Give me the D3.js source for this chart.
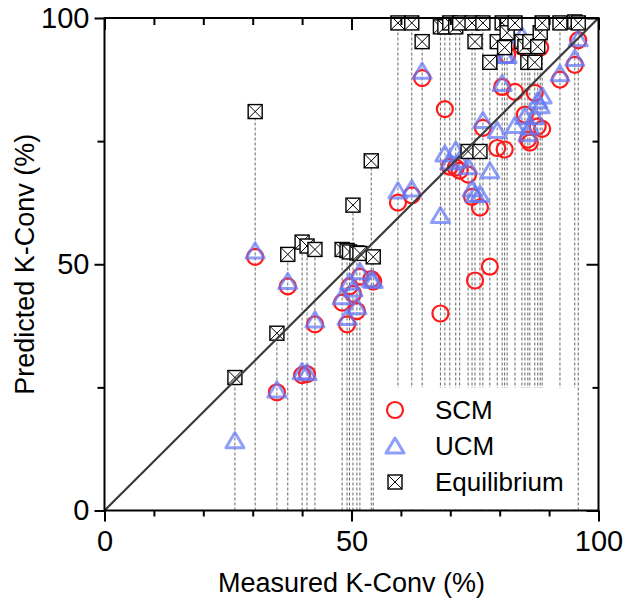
<!DOCTYPE html>
<html>
<head>
<meta charset="utf-8">
<script src="https://cdn.jsdelivr.net/npm/d3@7"></script>
<style>
  body { margin: 0; background: #fff; }
  svg { display: block; font-family: "Liberation Sans", Arial, sans-serif; }
</style>
</head>
<body>
<div id="viz"></div>
<script>
const W = 623;
const H = 598;
const margin = {top: 18, right: 24.5, bottom: 87.5, left: 104.5};

// Measured K-Conv (%) for each experiment
const measured = [26.4, 30.5, 34.9, 37.1, 40.0, 41.0, 42.6, 48.1, 49.1, 49.6, 50.3, 51.1, 51.7, 54.0, 54.4,
  59.4, 62.2, 64.3, 68.0, 68.9, 69.9, 71.1, 71.9, 73.6, 74.4, 75.0, 76.0, 76.6, 78.0, 79.5,
  80.5, 81.0, 81.5, 83.1, 84.5, 85.1, 85.7, 86.1, 87.1, 87.7, 88.2, 88.6, 92.2, 95.2, 95.9];
// Predicted values per model (null = not shown)
const scm = [null, 51.5, 24, 45.5, 27.5, 27.7, 37.8, 42.2, 37.8, 45.5, 44, 40.5, 47.5, 47, 46.5,
  62.5, 64, 87.8, 40, 81.5, 69.8, 69.6, 69, 68.2, 63.7, 46.7, 61.5, 77.7, 49.5, 73.6,
  86, 73.3, 92.5, 85, 94.2, 80.4, 75.3, 74.7, 84.8, 78, 94, 77.5, 87.5, 90.5, 95.5];
const ucm = [14, 52.5, 24.3, 46.3, 28, 27.8, 38.5, 43.2, 39, 46.2, 44.8, 41.2, 48.3, 46.8, 46.5,
  64.7, 65.1, 89, 59.7, 72.2, 70.6, 73, 71, 69.6, 65.1, 64, 64, 79, 68.8, 77,
  86.5, 92.2, 92.2, 78, 96.2, 79.8, 76.3, 77.7, 79.8, 83, 82, 84, 88.5, 91.6, 95.6];
const equilibrium = [27, 81, 36, 52, 54.5, 53.7, 53, 53, 52.8, 52.5, 62, 52.3, 52.2, 71, 51.5,
  99, 99, 95.2, 98.2, 98.2, 99, 98.2, 99, 72.9, 99, 95.2, 72.9, 99, 91, 95.2,
  99, 94, 97, 99, 95.2, 94.2, 91, 95.2, 91, 94.2, 97, 99, 99, 99.2, 99];

const seriesNames = ['SCM', 'UCM', 'Equilibrium'];
const majorTicks = [0, 50, 100];
const xMinorTicks = [10, 20, 30, 40, 60, 70, 80, 90];
const yMinorTicks = [25, 75];

const red = '#ff1a1a';
const blue = 'rgb(100,120,245)';

const rows = measured.map((m, i) => ({m, scm: scm[i], ucm: ucm[i], eq: equilibrium[i]}));

const svg = d3.select('#viz').append('svg')
  .attr('width', W)
  .attr('height', H)
  .attr('viewBox', `0 0 ${W} ${H}`);

const x = d3.scaleLinear().domain([0, 100]).range([margin.left, W - margin.right]);
const y = d3.scaleLinear().domain([0, 100]).range([H - margin.bottom, margin.top]);

// drop lines
svg.append('g')
  .selectAll('line')
  .data(rows)
  .join('line')
  .attr('x1', d => x(d.m))
  .attr('x2', d => x(d.m))
  .attr('y1', y(0))
  .attr('y2', d => y(d3.max([d.scm, d.ucm, d.eq])))
  .attr('stroke', '#666')
  .attr('stroke-width', 1)
  .attr('stroke-dasharray', '3,2');

// legend background hides the lines behind it
svg.append('rect')
  .attr('x', 378).attr('y', 388)
  .attr('width', 198).attr('height', y(0) - 389)
  .attr('fill', '#fff');

const tri = (cx, cy, s) => `M${cx},${cy - s}L${cx - s},${cy + s * 0.68}L${cx + s},${cy + s * 0.68}Z`;
const sq = 7;

const drawCircle = (g, cx, cy) => g.append('circle')
  .attr('cx', cx).attr('cy', cy).attr('r', 8)
  .attr('fill', 'none').attr('stroke', red).attr('stroke-width', 2.2);
const drawTri = (g, cx, cy) => g.append('path')
  .attr('d', tri(cx, cy, 9))
  .attr('fill', 'none').attr('stroke', blue).attr('stroke-opacity', 0.72)
  .attr('stroke-width', 3).attr('stroke-linejoin', 'round');
const drawSq = (g, cx, cy) => {
  const s = g.append('g');
  s.append('rect')
    .attr('x', cx - sq).attr('y', cy - sq).attr('width', sq * 2).attr('height', sq * 2)
    .attr('fill', '#fff').attr('stroke', '#000').attr('stroke-width', 1.4);
  s.append('path')
    .attr('d', `M${cx - sq},${cy - sq}L${cx + sq},${cy + sq}M${cx + sq},${cy - sq}L${cx - sq},${cy + sq}`)
    .attr('stroke', '#000').attr('stroke-width', 1);
};

const marks = svg.append('g');
const gc = marks.append('g');
rows.filter(d => d.scm != null).forEach(d => drawCircle(gc, x(d.m), y(d.scm)));
const gt = marks.append('g');
rows.forEach(d => drawTri(gt, x(d.m), y(d.ucm)));
const gs = marks.append('g');
rows.forEach(d => drawSq(gs, x(d.m), y(d.eq)));

// 1:1 line
svg.append('line')
  .attr('x1', x(0)).attr('y1', y(0))
  .attr('x2', x(100)).attr('y2', y(100))
  .attr('stroke', '#3a3a3a').attr('stroke-width', 2.2);

// axes
const styleAxis = g => {
  g.select('.domain').remove();
  g.selectAll('.tick line').attr('stroke', '#000').attr('stroke-width', 2);
  g.selectAll('.tick text').attr('font-size', 29).attr('fill', '#000')
    .attr('font-family', '"Liberation Sans", Arial, sans-serif');
};

svg.append('g')
  .attr('transform', `translate(0,${y(0)})`)
  .call(d3.axisBottom(x).tickValues(majorTicks).tickSize(11).tickPadding(9))
  .call(styleAxis);
svg.append('g')
  .attr('transform', `translate(0,${y(0)})`)
  .call(d3.axisBottom(x).tickValues(xMinorTicks).tickSize(6).tickFormat(''))
  .call(styleAxis);
svg.append('g')
  .attr('transform', `translate(${x(0)},0)`)
  .call(d3.axisLeft(y).tickValues(majorTicks).tickSize(10).tickPadding(5))
  .call(styleAxis);
svg.append('g')
  .attr('transform', `translate(${x(0)},0)`)
  .call(d3.axisLeft(y).tickValues(yMinorTicks).tickSize(7).tickFormat(''))
  .call(styleAxis);
// top and right, ticks pointing in
svg.append('g')
  .attr('transform', `translate(0,${y(100)})`)
  .call(d3.axisBottom(x).tickValues(majorTicks).tickSize(12).tickFormat(''))
  .call(styleAxis);
svg.append('g')
  .attr('transform', `translate(0,${y(100)})`)
  .call(d3.axisBottom(x).tickValues(xMinorTicks).tickSize(7).tickFormat(''))
  .call(styleAxis);
svg.append('g')
  .attr('transform', `translate(${x(100)},0)`)
  .call(d3.axisLeft(y).tickValues(majorTicks).tickSize(12).tickFormat(''))
  .call(styleAxis);
svg.append('g')
  .attr('transform', `translate(${x(100)},0)`)
  .call(d3.axisLeft(y).tickValues(yMinorTicks).tickSize(6).tickFormat(''))
  .call(styleAxis);

svg.append('rect')
  .attr('x', x(0)).attr('y', y(100))
  .attr('width', x(100) - x(0)).attr('height', y(0) - y(100))
  .attr('fill', 'none').attr('stroke', '#000').attr('stroke-width', 2);

// axis titles
svg.append('text')
  .attr('x', (x(0) + x(100)) / 2).attr('y', 592)
  .attr('text-anchor', 'middle').attr('font-size', 27)
  .text('Measured K-Conv (%)');
svg.append('text')
  .attr('transform', `translate(34,${(y(0) + y(100)) / 2}) rotate(-90)`)
  .attr('text-anchor', 'middle').attr('font-size', 27)
  .text('Predicted K-Conv (%)');

// legend
const lg = svg.append('g');
const legendY = [410, 446, 482];
drawCircle(lg, 395, legendY[0]);
drawTri(lg, 395, legendY[1] + 1);
drawSq(lg, 395, legendY[2]);
lg.selectAll('text')
  .data(seriesNames)
  .join('text')
  .attr('x', 435)
  .attr('y', (d, i) => legendY[i] + 9)
  .attr('font-size', 26)
  .text(d => d);
</script>
</body>
</html>
